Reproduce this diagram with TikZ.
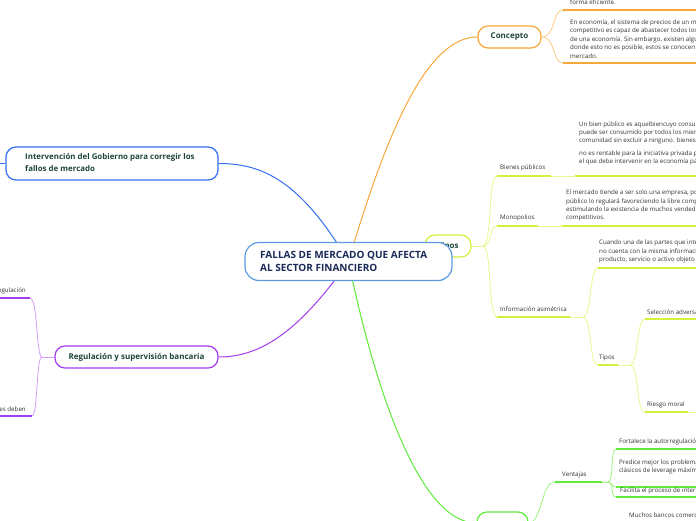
\documentclass[tikz,border=0pt]{standalone}
\usepackage{fontspec}
\setmainfont{Open Sans}
\usetikzlibrary{backgrounds}
\definecolor{cOr}{HTML}{F7A83A}
\definecolor{cOrL}{HTML}{FBCB85}
\definecolor{cYg}{HTML}{D4F03C}
\definecolor{cYgL}{HTML}{E8F88E}
\definecolor{cGr}{HTML}{5EEB3A}
\definecolor{cGrL}{HTML}{9CF27E}
\definecolor{cBl}{HTML}{3370F0}
\definecolor{cPu}{HTML}{A33CF0}
\definecolor{cPuL}{HTML}{D59CF7}
\definecolor{cCen}{HTML}{5A9AE0}
\definecolor{tDark}{HTML}{1E4636}
\definecolor{tNavy}{HTML}{1B2B58}
\definecolor{tBody}{HTML}{333333}
\begin{document}
\begin{tikzpicture}[x=1pt,y=-1pt,
  topic/.style={draw, rounded corners=10pt, line width=1.2pt, fill=white,
    font=\bfseries\fontsize{8}{12}\selectfont, text=tDark, inner sep=0},
  body/.style={font=\fontsize{6.2}{8.3}\selectfont, text=tBody, align=left, anchor=north west, inner sep=0},
  lbl/.style={font=\fontsize{6.2}{8.3}\selectfont, text=tBody, anchor=west, inner sep=0},
  ul/.style={line width=2.2pt},
  link/.style={line width=1pt},
  sublink/.style={line width=0.8pt},
]
\useasboundingbox (0,0) rectangle (696,520);
\clip (0,0) rectangle (696,520);

% ---------- topic nodes ----------
\node[topic, draw=cYg, minimum width=46pt, minimum height=22pt] (tipos) at (448,246) {Tipos};
\node[draw=cCen, rounded corners=14pt, line width=1.2pt, fill=white, minimum width=207pt, minimum height=38pt, inner sep=0] (center) at (348.5,261.5) {};
\node[anchor=west, align=left, inner sep=0, font=\bfseries\fontsize{10}{13}\selectfont, text=tNavy] (centerlabel) at (260,261) {FALLAS DE MERCADO QUE AFECTA\\AL SECTOR FINANCIERO};
\node[topic, draw=cOr, minimum width=63pt, minimum height=22pt] (concept) at (509.5,37) {Concepto};
\node[topic, draw=cBl, minimum width=212pt, minimum height=33pt] (interv) at (112,163.5) {};
\node[anchor=west, align=left, inner sep=0, font=\bfseries\fontsize{7.9}{12}\selectfont, text=tDark] (intervlabel) at (25,163) {Intervención del Gobierno para corregir los\\fallos de mercado};
\node[topic, draw=cPu, minimum width=163pt, minimum height=22pt] (reg) at (136.5,357) {Regulación y supervisión bancaria};
\node[topic, draw=cGr, minimum width=51pt, minimum height=22pt] (gnode) at (502.5,523) {};

% ---------- coordinates ----------
\coordinate (cA) at (563,10);   \coordinate (cAe) at (700,10);
\coordinate (cB) at (563,63);   \coordinate (cBe) at (700,63);
\coordinate (tj) at (483,246);
\coordinate (bpS) at (497,176); \coordinate (bpE) at (551,176); \coordinate (bpB) at (575,176); \coordinate (bpBe) at (700,176);
\coordinate (moS) at (497,226); \coordinate (moE) at (538,226); \coordinate (moB) at (562,226); \coordinate (moBe) at (700,226);
\coordinate (iaS) at (497,317); \coordinate (iaE) at (570,317); \coordinate (iaJ) at (583,317);
\coordinate (iaB) at (598,268); \coordinate (iaBe) at (700,268);
\coordinate (tpS) at (598,365); \coordinate (tpE) at (618,365); \coordinate (tpJ) at (630,365);
\coordinate (saS) at (645,319); \coordinate (saE) at (700,319);
\coordinate (rmS) at (645,412); \coordinate (rmE) at (688,412); \coordinate (rmEe) at (700,412);
\coordinate (vS) at (555,482); \coordinate (vE) at (602,482); \coordinate (vJ) at (608,482);
\coordinate (v1) at (616,449); \coordinate (v1e) at (700,449);
\coordinate (v2) at (616,487); \coordinate (v2e) at (700,487);
\coordinate (v3) at (616,497); \coordinate (v3e) at (700,497);
\coordinate (ivL) at (-10,163.5);
\coordinate (rJ) at (42,357);
\coordinate (r1) at (30,298); \coordinate (r1e) at (-10,298);
\coordinate (r2) at (32,416); \coordinate (r2e) at (-10,416);

% ---------- texts ----------
\node[body] (fe) at (570,0) {forma eficiente.};
\node[body, font=\fontsize{6.2}{8.5}\selectfont] (ce) at (570,19.5) {En economía, el sistema de precios de un mercado\\competitivo es capaz de abastecer todos los bienes\\de una economía. Sin embargo, existen algunos casos\\donde esto no es posible, estos se conocen como fallos de\\mercado.};
\node[lbl] (bpl) at (500,168) {Bienes públicos};
\node[body, font=\fontsize{6.2}{7.9}\selectfont] (bp1) at (579,122) {Un bien público es aquelbiencuyo consumo\\puede ser consumido por todos los miembros de la\\comunidad sin excluir a ninguno. bienes cuyo};
\node[body] (bp2) at (579,150.3) {no es rentable para la iniciativa privada por lo que es el Estado\\el que debe intervenir en la economía para};
\node[lbl] (mol) at (500,218) {Monopolios};
\node[body] (mob) at (566,190) {El mercado tiende a ser solo una empresa, por lo que el sector\\público lo regulará favoreciendo la libre competencia y\\estimulando la existencia de muchos vendedores\\competitivos.};
\node[lbl] (ial) at (500,309) {Información asimétrica};
\node[body, font=\fontsize{6.2}{8.5}\selectfont] (iab) at (599,240) {Cuando una de las partes que intervienen en una transacción\\no cuenta con la misma información sobre el\\producto, servicio o activo objeto de la transacción};
\node[lbl] (tpl) at (599,358) {Tipos};
\node[lbl] (sal) at (647,312) {Selección adversa};
\node[lbl] (rml) at (647,405) {Riesgo moral};
\node[lbl] (vl) at (562,475) {Ventajas};
\node[lbl] (v1l) at (619,442) {Fortalece la autorregulación};
\node[body, font=\fontsize{6.2}{7.5}\selectfont] (v2l) at (619,460) {Predice mejor los problemas\\clásicos de leverage máximo};
\node[lbl] (v3l) at (620,491) {Facilita el proceso de intermediación};
\node[lbl] (mbl) at (629,515) {Muchos bancos comerciales};
\node[lbl, anchor=east] (r1l) at (26,291) {Autorregulación};
\node[lbl, anchor=east] (r2l) at (26,409) {Las autoridades deben};

% ---------- connectors ----------
\begin{pgfonlayer}{background}
% orange
\draw[cOr, link] (center.center) .. controls (390,120) and (430,37) .. (concept.west);
\draw[cOrL, sublink] (concept.east) .. controls (556,37) and (552,10) .. (cA);
\draw[cOrL, sublink] (concept.east) .. controls (556,37) and (552,63) .. (cB);
\draw[cOr, ul] (cA) -- (cAe);
\draw[cOr, ul] (cB) -- (cBe);
% yellow-green
\draw[cYg, link] (center.center) -- (tipos.west);
\draw[cYgL, sublink] (tipos.east) -- (tj);
\draw[cYgL, sublink] (tj) .. controls (492,246) and (488,176) .. (bpS);
\draw[cYgL, sublink] (tj) .. controls (492,246) and (489,226) .. (moS);
\draw[cYgL, sublink] (tj) .. controls (492,246) and (488,317) .. (iaS);
\draw[cYg, ul] (bpS) -- (bpE);
\draw[cYgL, sublink] (bpE) -- (bpB);
\draw[cYg, ul] (bpB) -- (bpBe);
\draw[cYg, ul] (moS) -- (moE);
\draw[cYgL, sublink] (moE) -- (moB);
\draw[cYg, ul] (moB) -- (moBe);
\draw[cYg, ul] (iaS) -- (iaE);
\draw[cYgL, sublink] (iaE) -- (iaJ);
\draw[cYgL, sublink] (iaJ) .. controls (592,317) and (589,268) .. (iaB);
\draw[cYgL, sublink] (iaJ) .. controls (592,317) and (589,365) .. (tpS);
\draw[cYg, ul] (iaB) -- (iaBe);
\draw[cYg, ul] (tpS) -- (tpE);
\draw[cYgL, sublink] (tpE) -- (tpJ);
\draw[cYgL, sublink] (tpJ) .. controls (639,365) and (636,319) .. (saS);
\draw[cYgL, sublink] (tpJ) .. controls (639,365) and (636,412) .. (rmS);
\draw[cYg, ul] (saS) -- (saE);
\draw[cYg, ul] (rmS) -- (rmE);
\draw[cYgL, sublink] (rmE) -- (rmEe);
% green
\draw[cGr, link] (center.center) .. controls (375,390) and (420,523) .. (gnode.west);
\draw[cGrL, sublink] (gnode.east) .. controls (542,523) and (541,482) .. (vS);
\draw[cGr, ul] (vS) -- (vE);
\draw[cGrL, sublink] (vE) -- (vJ);
\draw[cGrL, sublink] (vJ) .. controls (614,482) and (610,449) .. (v1);
\draw[cGrL, sublink] (vJ) .. controls (613,482) and (611,487) .. (v2);
\draw[cGrL, sublink] (vJ) .. controls (614,482) and (610,497) .. (v3);
\draw[cGr, ul] (v1) -- (v1e);
\draw[cGr, ul] (v2) -- (v2e);
\draw[cGr, ul] (v3) -- (v3e);
% blue
\draw[cBl, link] (center.center) .. controls (300,180) and (262,163.5) .. (interv.east);
\draw[cBl, sublink] (interv.west) -- (ivL);
% purple
\draw[cPu, link] (center.center) .. controls (300,330) and (262,357) .. (reg.east);
\draw[cPuL, sublink] (reg.west) -- (rJ);
\draw[cPuL, sublink] (rJ) .. controls (36,357) and (38,298) .. (r1);
\draw[cPuL, sublink] (rJ) .. controls (36,357) and (38,416) .. (r2);
\draw[cPu, ul] (r1) -- (r1e);
\draw[cPu, ul] (r2) -- (r2e);
\end{pgfonlayer}
\end{tikzpicture}
\end{document}
